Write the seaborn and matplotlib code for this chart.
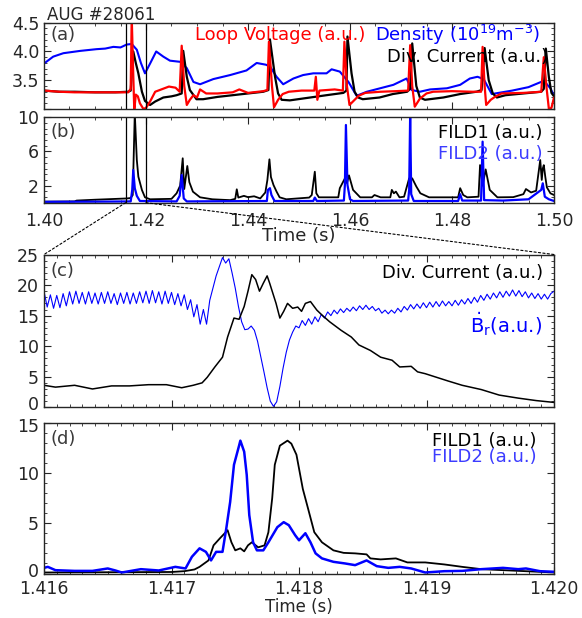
import numpy as np
import matplotlib
matplotlib.use("Agg")
import matplotlib.pyplot as plt
import matplotlib.transforms as mtrans
from matplotlib.ticker import AutoMinorLocator, FixedLocator
from matplotlib.patches import ConnectionPatch
import seaborn as sns

# ---- panel (a): density / loop voltage / div. current, 1.40-1.50 s
dens_t = [1.4000, 1.4018, 1.4038, 1.4071, 1.4103, 1.4120, 1.4136, 1.4150, 1.4162, 1.4172,
          1.4182, 1.4190, 1.4198, 1.4208, 1.4220, 1.4234, 1.4247, 1.4267, 1.4280, 1.4293,
          1.4306, 1.4332, 1.4365, 1.4397, 1.4417, 1.4435, 1.4443, 1.4456, 1.4469, 1.4489,
          1.4508, 1.4528, 1.4554, 1.4564, 1.4580, 1.4597, 1.4613, 1.4633, 1.4659, 1.4685,
          1.4711, 1.4721, 1.4737, 1.4757, 1.4790, 1.4816, 1.4835, 1.4850, 1.4862, 1.4878,
          1.4918, 1.4950, 1.4980, 1.4993, 1.5000]
dens_v = [3.79, 3.91, 3.97, 4.01, 4.04, 4.05, 4.08, 4.07, 4.12, 4.13,
          4.03, 3.80, 3.62, 3.79, 4.00, 3.91, 3.84, 3.82, 3.71, 3.47,
          3.43, 3.52, 3.59, 3.67, 3.80, 3.77, 3.74, 3.56, 3.43, 3.53,
          3.59, 3.62, 3.62, 3.69, 3.65, 3.47, 3.23, 3.30, 3.36, 3.42,
          3.53, 3.33, 3.30, 3.34, 3.36, 3.42, 3.53, 3.56, 3.52, 3.26,
          3.32, 3.38, 3.49, 3.36, 3.23]

div_t = [1.4000, 1.4030, 1.4060, 1.4100, 1.4140, 1.4165, 1.4170, 1.4175, 1.4180, 1.4185,
         1.4192, 1.4198, 1.4208, 1.4218, 1.4234, 1.4250, 1.4260, 1.4270, 1.4273, 1.4280,
         1.4286, 1.4299, 1.4312, 1.4340, 1.4370, 1.4400, 1.4430, 1.4440, 1.4443, 1.4453,
         1.4459, 1.4466, 1.4482, 1.4522, 1.4554, 1.4587, 1.4593, 1.4595, 1.4603, 1.4609,
         1.4616, 1.4625, 1.4658, 1.4684, 1.4712, 1.4718, 1.4722, 1.4730, 1.4737, 1.4747,
         1.4783, 1.4816, 1.4848, 1.4858, 1.4864, 1.4872, 1.4880, 1.4888, 1.4905, 1.4940,
         1.4975, 1.4980, 1.4984, 1.4990, 1.4995, 1.5000]
div_v = [3.32, 3.30, 3.30, 3.29, 3.29, 3.30, 3.32, 4.00, 3.80, 3.62,
         3.30, 3.14, 3.07, 3.13, 3.20, 3.22, 3.24, 3.27, 4.01, 3.56,
         3.33, 3.17, 3.17, 3.21, 3.24, 3.27, 3.30, 3.33, 4.21, 3.56,
         3.27, 3.16, 3.15, 3.20, 3.24, 3.28, 3.32, 4.26, 3.62, 3.30,
         3.20, 3.17, 3.20, 3.26, 3.30, 3.35, 4.14, 3.40, 3.20, 3.16,
         3.20, 3.26, 3.30, 3.33, 4.06, 3.50, 3.27, 3.20, 3.24, 3.27,
         3.30, 3.35, 4.05, 3.55, 3.28, 3.22]

loop_t = [1.4000, 1.4030, 1.4060, 1.4100, 1.4140, 1.4165, 1.4170, 1.4172, 1.4175, 1.4177,
          1.4180, 1.4184, 1.4188, 1.4195, 1.4200, 1.4208, 1.4218, 1.4230, 1.4245, 1.4258,
          1.4266, 1.4270, 1.4275, 1.4280, 1.4286, 1.4293, 1.4300, 1.4306, 1.4318, 1.4340,
          1.4370, 1.4383, 1.4400, 1.4430, 1.4438, 1.4441, 1.4447, 1.4451, 1.4459, 1.4468,
          1.4480, 1.4505, 1.4530, 1.4533, 1.4536, 1.4540, 1.4570, 1.4586, 1.4589, 1.4594,
          1.4599, 1.4608, 1.4617, 1.4630, 1.4660, 1.4690, 1.4714, 1.4718, 1.4722, 1.4727,
          1.4737, 1.4750, 1.4763, 1.4800, 1.4840, 1.4857, 1.4860, 1.4864, 1.4867, 1.4876,
          1.4884, 1.4897, 1.4940, 1.4975, 1.4980, 1.4985, 1.4990, 1.4995, 1.5000]
loop_v = [3.32, 3.30, 3.29, 3.29, 3.29, 3.29, 3.35, 4.60, 3.60, 2.98,
          3.25, 3.22, 3.10, 3.00, 3.02, 3.13, 3.30, 3.34, 3.39, 3.37,
          3.30, 4.10, 3.40, 3.07, 3.16, 3.24, 3.20, 3.34, 3.27, 3.27,
          3.29, 3.34, 3.28, 3.31, 3.33, 4.17, 3.40, 3.03, 3.16, 3.26,
          3.30, 3.32, 3.32, 3.56, 3.16, 3.32, 3.34, 3.32, 4.17, 3.40,
          3.07, 3.15, 3.23, 3.28, 3.30, 3.31, 3.32, 4.11, 3.40, 3.04,
          3.18, 3.27, 3.30, 3.31, 3.30, 3.30, 4.08, 3.40, 3.07, 3.16,
          3.21, 3.27, 3.28, 3.30, 3.90, 3.40, 3.00, 3.02, 3.20]

# ---- panel (b): FILD signals, 1.40-1.50 s
fild1_t = [1.4000, 1.4060, 1.4064, 1.4100, 1.4130, 1.4163, 1.4170, 1.4174, 1.4178, 1.4182,
           1.4185, 1.4192, 1.4198, 1.4208, 1.4250, 1.4260, 1.4267, 1.4272, 1.4275, 1.4281,
           1.4285, 1.4292, 1.4306, 1.4330, 1.4365, 1.4375, 1.4378, 1.4381, 1.4392, 1.4400,
           1.4412, 1.4424, 1.4434, 1.4438, 1.4442, 1.4445, 1.4450, 1.4456, 1.4462, 1.4475,
           1.4520, 1.4525, 1.4531, 1.4534, 1.4539, 1.4577, 1.4580, 1.4590, 1.4594, 1.4598,
           1.4606, 1.4620, 1.4643, 1.4648, 1.4660, 1.4679, 1.4682, 1.4686, 1.4690, 1.4697,
           1.4706, 1.4710, 1.4716, 1.4722, 1.4730, 1.4738, 1.4755, 1.4812, 1.4816, 1.4822,
           1.4830, 1.4852, 1.4855, 1.4860, 1.4866, 1.4874, 1.4889, 1.4920, 1.4940, 1.4945,
           1.4955, 1.4965, 1.4973, 1.4976, 1.4978, 1.4980, 1.4983, 1.4986, 1.4993, 1.5000]
fild1_v = [0.12, 0.15, 0.25, 0.35, 0.42, 0.50, 0.55, 0.90, 10.5, 5.00,
           3.05, 1.49, 0.63, 0.40, 0.45, 1.10, 2.00, 5.20, 1.60, 4.30,
           2.40, 1.29, 0.63, 0.40, 0.30, 0.45, 1.57, 0.60, 0.80, 0.65,
           0.75, 0.50, 1.20, 2.66, 5.08, 3.00, 2.07, 1.30, 0.63, 0.40,
           0.60, 0.90, 3.63, 1.10, 0.63, 0.63, 1.70, 2.85, 2.30, 3.20,
           1.50, 0.63, 0.63, 0.90, 0.63, 0.63, 1.50, 1.10, 1.30, 0.63,
           0.70, 1.57, 2.85, 2.85, 1.90, 1.10, 0.63, 0.63, 1.70, 0.90,
           0.63, 0.70, 4.41, 2.00, 3.90, 1.50, 0.63, 0.65, 1.00, 1.60,
           1.20, 1.40, 5.00, 2.66, 4.00, 4.40, 3.00, 1.80, 1.10, 0.90]

fild2_t = [1.4000, 1.4100, 1.4170, 1.4173, 1.4175, 1.4178, 1.4182, 1.4188, 1.4260, 1.4266,
           1.4270, 1.4274, 1.4280, 1.4437, 1.4439, 1.4443, 1.4446, 1.4452, 1.4528, 1.4531,
           1.4535, 1.4588, 1.4590, 1.4592, 1.4595, 1.4600, 1.4606, 1.4714, 1.4716, 1.4718,
           1.4720, 1.4725, 1.4812, 1.4816, 1.4820, 1.4857, 1.4860, 1.4863, 1.4900, 1.4950,
           1.4975, 1.4978, 1.4982, 1.4990, 1.5000]
fild2_v = [0.10, 0.12, 0.15, 1.50, 3.83, 1.70, 0.80, 0.20, 0.15, 0.80,
           3.24, 0.50, 0.15, 0.20, 1.50, 1.70, 0.90, 0.20, 0.20, 0.60,
           0.20, 0.25, 2.10, 9.10, 2.10, 0.40, 0.20, 0.25, 1.50, 10.5,
           1.00, 0.20, 0.20, 1.00, 0.25, 0.25, 7.15, 0.30, 0.25, 0.40,
           1.50, 2.27, 0.70, 0.40, 0.20]

# ---- panel (c): div. current and dB_r/dt, 1.416-1.420 s
divz_t = [1.41600, 1.41609, 1.41624, 1.41638, 1.41653, 1.41667, 1.41682, 1.41696, 1.41708, 1.41717,
          1.41724, 1.41728, 1.41734, 1.41740, 1.41744, 1.41749, 1.41753, 1.41757, 1.41760, 1.41763,
          1.41766, 1.41769, 1.41772, 1.41775, 1.41777, 1.41782, 1.41785, 1.41788, 1.41791, 1.41795,
          1.41799, 1.41802, 1.41805, 1.41809, 1.41814, 1.41818, 1.41824, 1.41833, 1.41841, 1.41847,
          1.41856, 1.41864, 1.41873, 1.41879, 1.41888, 1.41893, 1.41899, 1.41908, 1.41917, 1.41928,
          1.41943, 1.41957, 1.41972, 1.41986, 1.42000]
divz_v = [3.6, 3.3, 3.6, 3.0, 3.5, 3.5, 3.7, 3.7, 3.2, 3.6,
          4.0, 4.9, 6.6, 8.2, 11.5, 14.6, 14.4, 16.5, 19.0, 21.7,
          20.9, 19.0, 20.3, 21.5, 20.3, 17.0, 14.6, 15.7, 17.0, 16.2,
          16.4, 15.7, 17.0, 17.3, 15.9, 15.1, 14.0, 12.6, 11.5, 10.2,
          9.3, 8.2, 7.7, 6.6, 6.7, 5.8, 5.5, 4.9, 4.3, 3.6,
          2.9, 2.0, 1.5, 1.1, 0.8]

# dB_r/dt sampled every 25 us from 1.416 s to 1.420 s
br_v = [19.0, 16.4, 18.4, 16.2, 18.3, 16.3, 18.6, 16.6, 18.9, 16.9,
        19.0, 17.0, 18.8, 16.9, 18.9, 17.0, 18.7, 16.9, 18.8, 17.0,
        18.9, 17.0, 18.6, 16.8, 18.7, 17.0, 18.8, 16.9, 18.7, 17.0,
        18.9, 17.1, 19.0, 17.0, 19.1, 17.1, 18.9, 16.9, 19.0, 17.0,
        18.8, 16.8, 18.6, 16.6, 18.4, 16.0, 17.6, 14.8, 16.8, 13.6,
        16.0, 13.6, 17.5, 19.5, 21.5, 23.0, 24.5, 23.6, 24.3, 22.0,
        19.5, 16.5, 14.0, 12.7, 12.8, 13.3, 12.6, 10.8, 8.3, 5.8,
        3.2, 1.0, 0.15, 0.9, 3.4, 6.4, 9.0, 11.0, 12.3, 13.3,
        13.0, 14.2, 13.4, 14.5, 13.6, 14.8, 14.0, 15.2, 14.6, 15.6,
        15.0, 15.9, 15.3, 16.1, 15.5, 16.2, 15.7, 16.4, 15.8, 16.6,
        16.0, 16.7, 16.0, 16.5, 15.8, 16.2, 15.4, 15.9, 15.3, 15.9,
        15.4, 16.2, 15.6, 16.5, 15.9, 16.8, 16.1, 16.9, 16.2, 17.1,
        16.3, 17.2, 16.4, 17.3, 16.5, 17.4, 16.6, 17.3, 16.6, 17.5,
        16.7, 17.6, 16.9, 17.8, 17.0, 18.0, 17.2, 18.3, 17.5, 18.5,
        17.7, 18.7, 17.9, 18.9, 18.0, 19.0, 18.2, 19.2, 18.2, 19.1,
        18.1, 18.9, 17.9, 18.7, 17.8, 18.6, 17.7, 18.5, 17.7, 18.6,
        19.0]
br_t = np.linspace(1.416, 1.420, len(br_v))

# ---- panel (d): FILD signals zoomed
f1z_t = [1.41600, 1.41700, 1.41710, 1.41718, 1.41722, 1.41729, 1.41733, 1.41738, 1.41744, 1.41747,
         1.41750, 1.41754, 1.41757, 1.41760, 1.41763, 1.41768, 1.41773, 1.41776, 1.41779, 1.41781,
         1.41785, 1.41791, 1.41794, 1.41798, 1.41803, 1.41807, 1.41812, 1.41818, 1.41827, 1.41835,
         1.41844, 1.41853, 1.41856, 1.41864, 1.41876, 1.41885, 1.41899, 1.41914, 1.41928, 1.41943,
         1.42000]
f1z_v = [0.10, 0.15, 0.23, 0.40, 0.66, 1.30, 2.80, 3.50, 4.30, 3.10,
         2.30, 2.50, 2.20, 2.80, 3.10, 2.60, 2.80, 4.10, 7.50, 10.8,
         12.7, 13.2, 12.9, 11.8, 8.40, 6.50, 4.10, 3.10, 2.30, 2.05,
         2.00, 1.90, 1.50, 1.40, 1.50, 1.10, 1.10, 0.90, 0.66, 0.43,
         0.10]

f2z_t = [1.41600, 1.41603, 1.41609, 1.41624, 1.41638, 1.41650, 1.41656, 1.41661, 1.41676, 1.41690,
         1.41703, 1.41711, 1.41716, 1.41722, 1.41727, 1.41731, 1.41735, 1.41740, 1.41743, 1.41746,
         1.41749, 1.41753, 1.41754, 1.41757, 1.41759, 1.41761, 1.41764, 1.41767, 1.41770, 1.41772,
         1.41776, 1.41783, 1.41788, 1.41792, 1.41797, 1.41800, 1.41805, 1.41809, 1.41813, 1.41818,
         1.41827, 1.41836, 1.41844, 1.41853, 1.41861, 1.41870, 1.41879, 1.41888, 1.41899, 1.41914,
         1.41928, 1.41943, 1.41960, 1.41972, 1.41978, 1.41989, 1.42000]
f2z_v = [0.56, 0.66, 0.33, 0.26, 0.26, 0.50, 0.30, 0.10, 0.43, 0.30,
         0.66, 0.50, 1.66, 2.50, 2.15, 1.30, 2.15, 2.15, 4.50, 7.10,
         10.8, 12.7, 13.2, 12.1, 9.80, 5.80, 3.10, 2.30, 2.30, 2.30,
         3.10, 4.60, 5.10, 4.80, 3.80, 3.30, 4.00, 3.10, 2.00, 1.50,
         1.16, 1.00, 0.83, 1.30, 0.73, 0.56, 0.66, 0.50, 0.10, 0.23,
         0.26, 0.43, 0.56, 0.43, 0.50, 0.23, 0.17]

BLUE = "#0000ff"
RED = "#ff0000"
LBLUE = "#3c3cff"
GREY = "#3a3a3a"
LBL = 13      # size of in-panel labels
TCK = 12.5    # size of tick labels

sns.set_style("ticks")
plt.rcParams["font.family"] = ["DejaVu Sans"]
plt.rcParams["font.size"] = TCK
plt.rcParams["xtick.direction"] = "in"
plt.rcParams["ytick.direction"] = "in"
plt.rcParams["xtick.top"] = True
plt.rcParams["ytick.right"] = True
plt.rcParams["xtick.major.size"] = 5
plt.rcParams["ytick.major.size"] = 5
plt.rcParams["xtick.minor.size"] = 2.5
plt.rcParams["ytick.minor.size"] = 2.5
plt.rcParams["xtick.major.pad"] = 6.5
plt.rcParams["axes.linewidth"] = 1.0

fig = plt.figure(figsize=(5.82, 6.18), dpi=100)
W, H = 582.0, 618.0


def make_ax(top, bottom):
    return fig.add_axes([44 / W, 1 - bottom / H, 510 / W, (bottom - top) / H])


ax_a = make_ax(22.7, 109.0)
ax_b = make_ax(117.3, 202.7)
ax_c = make_ax(254.5, 407.3)
ax_d = make_ax(422.5, 573.5)


def line(ax, x, y, color, lw):
    sns.lineplot(x=x, y=y, ax=ax, color=color, linewidth=lw, estimator=None, sort=False)


# (a)
line(ax_a, dens_t, dens_v, BLUE, 1.5)
line(ax_a, div_t, div_v, "black", 1.6)
line(ax_a, loop_t, loop_v, RED, 1.6)
ax_a.set_xlim(1.40, 1.50)
ax_a.set_ylim(3.0, 4.5)
ax_a.yaxis.set_major_locator(FixedLocator([3.0, 3.5, 4.0, 4.5]))
ax_a.set_yticklabels(["", "3.5", "4.0", "4.5"])
ax_a.set_xticks([1.40, 1.42, 1.44, 1.46, 1.48, 1.50])
ax_a.tick_params(labelbottom=False)
ax_a.text(0.012, 0.857, "(a)", transform=ax_a.transAxes, color=GREY, va="center", fontsize=LBL)
ax_a.text(0.631, 0.857, "Loop Voltage (a.u.)", transform=ax_a.transAxes, color=RED,
          ha="right", va="center", fontsize=LBL)
ax_a.text(0.973, 0.857, "Density (10$^{19}$m$^{-3}$)", transform=ax_a.transAxes,
          color=BLUE, ha="right", va="center", fontsize=LBL)
ax_a.text(0.988, 0.603, "Div. Current (a.u.)", transform=ax_a.transAxes, color="black",
          ha="right", va="center", fontsize=LBL)

# (b)
line(ax_b, fild1_t, fild1_v, "black", 1.3)
line(ax_b, fild2_t, fild2_v, BLUE, 1.6)
ax_b.set_xlim(1.40, 1.50)
ax_b.set_ylim(0, 10)
ax_b.set_yticks([2, 6, 10])
ax_b.set_xticks([1.40, 1.42, 1.44, 1.46, 1.48, 1.50])
ax_b.set_xticklabels(["1.40", "1.42", "1.44", "1.46", "1.48", "1.50"])
ax_b.set_xlabel("Time (s)", labelpad=-2, fontsize=13)
ax_b.text(0.012, 0.831, "(b)", transform=ax_b.transAxes, color=GREY, va="center", fontsize=LBL)
ax_b.text(0.978, 0.815, "FILD1 (a.u.)", transform=ax_b.transAxes, color="black",
          ha="right", va="center", fontsize=LBL)
ax_b.text(0.978, 0.57, "FILD2 (a.u.)", transform=ax_b.transAxes, color=LBLUE,
          ha="right", va="center", fontsize=LBL)

for ax in (ax_a, ax_b):
    ax.axvline(1.416, color="black", linewidth=0.9)
    ax.axvline(1.420, color="black", linewidth=0.9)
    ax.xaxis.set_minor_locator(AutoMinorLocator(4))

ax_a.yaxis.set_minor_locator(AutoMinorLocator(5))
ax_b.yaxis.set_minor_locator(AutoMinorLocator(6))

# (c)
line(ax_c, br_t, br_v, BLUE, 0.8)
line(ax_c, divz_t, divz_v, "black", 1.1)
ax_c.set_ylim(0, 25)
ax_c.set_yticks([0, 5, 10, 15, 20, 25])
ax_c.tick_params(labelbottom=False)
ax_c.text(0.012, 0.891, "(c)", transform=ax_c.transAxes, color=GREY, va="center", fontsize=LBL)
ax_c.text(0.978, 0.881, "Div. Current (a.u.)", transform=ax_c.transAxes, color="black",
          ha="right", va="center", fontsize=LBL)
ax_c.text(0.976, 0.543, r"$\dot{\mathrm{B}}_\mathrm{r}$(a.u.)", transform=ax_c.transAxes,
          color=BLUE, ha="right", va="center", fontsize=14)

# (d)
line(ax_d, f1z_t, f1z_v, "black", 1.3)
line(ax_d, f2z_t, f2z_v, BLUE, 1.8)
ax_d.set_ylim(0, 15)
ax_d.set_yticks([0, 5, 10, 15])
ax_d.set_xlabel("Time (s)", labelpad=0, fontsize=12)
ax_d.text(0.012, 0.89, "(d)", transform=ax_d.transAxes, color=GREY, va="center", fontsize=LBL)
ax_d.text(0.965, 0.879, "FILD1 (a.u.)", transform=ax_d.transAxes, color="black",
          ha="right", va="center", fontsize=LBL)
ax_d.text(0.965, 0.769, "FILD2 (a.u.)", transform=ax_d.transAxes, color=LBLUE,
          ha="right", va="center", fontsize=LBL)

for ax in (ax_c, ax_d):
    ax.set_xlim(1.416, 1.420)
    ax.set_xticks([1.416, 1.417, 1.418, 1.419, 1.420])
    ax.xaxis.set_minor_locator(AutoMinorLocator(10))
    ax.yaxis.set_minor_locator(AutoMinorLocator(5))

for ax in (ax_a, ax_b, ax_c, ax_d):
    ax.set_ylabel("")
    ax.tick_params(which="both", top=True, right=True, direction="in")

ax_d.tick_params(axis="x", which="major", pad=4.5, labelsize=12.5)
ax_d.set_xticklabels(["1.416", "1.417", "1.418", "1.419", "1.420"])

# zoom connectors
for xb, xc in ((1.416, 0.0), (1.420, 1.0)):
    con = ConnectionPatch(xyA=(xb, 0), coordsA=ax_b.transData,
                          xyB=(xc, 1.0), coordsB=ax_c.transAxes,
                          linestyle=(0, (2, 2)), linewidth=0.8, color="black")
    fig.add_artist(con)

fig.text(46.7 / W, 1 - 15 / H, "AUG #28061", fontsize=12, va="center", ha="left")

# nudge the crowded y labels at panel boundaries apart
fig.canvas.draw()


def nudge(ax, loc, dy):
    for tk in ax.yaxis.get_major_ticks():
        if tk.get_loc() == loc:
            tk.label1.set_transform(tk.label1.get_transform()
                                    + mtrans.ScaledTranslation(0, dy / 72, fig.dpi_scale_trans))


nudge(ax_c, 0, 3)
nudge(ax_d, 15, -2)
nudge(ax_d, 0, 2.5)

fig.savefig("out.png", dpi=100)
